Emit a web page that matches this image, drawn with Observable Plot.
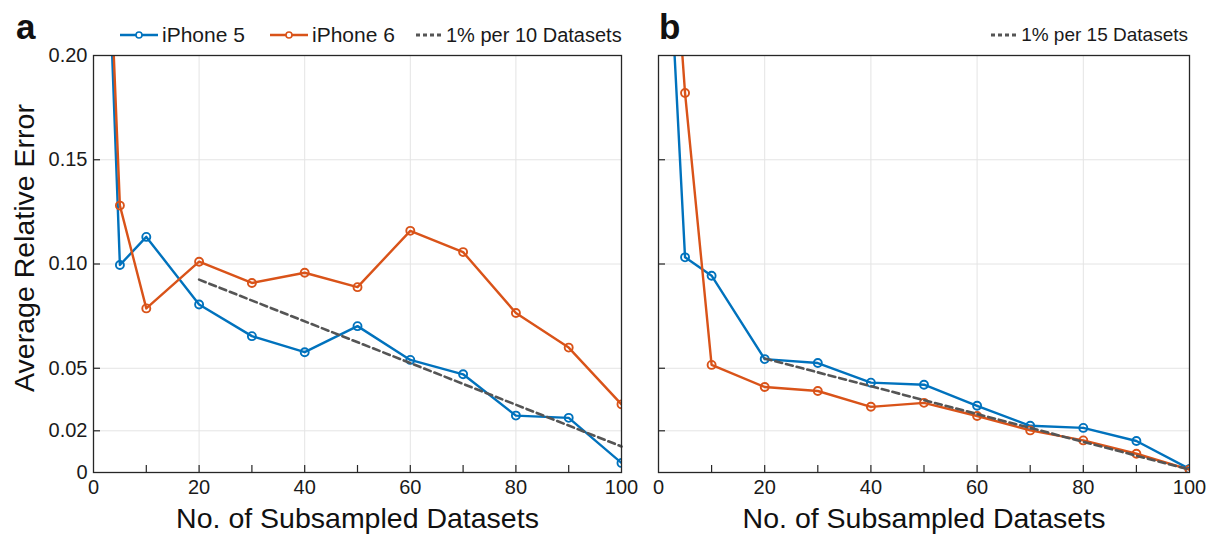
<!DOCTYPE html>
<html><head><meta charset="utf-8">
<script src="https://cdn.jsdelivr.net/npm/d3@7"></script>
<script src="https://cdn.jsdelivr.net/npm/@observablehq/plot@0.6"></script>
<style>
body{margin:0;background:#fff;font-family:"Liberation Sans",Arial,sans-serif;}
#wrap{position:relative;width:1210px;height:534px;overflow:hidden;background:#fff;}
.panel{position:absolute;top:0;}
.tag{position:absolute;font-weight:bold;font-size:35px;color:#111;line-height:1;}
.leg{position:absolute;display:flex;align-items:center;height:24px;color:#1a1a1a;white-space:nowrap;line-height:24px;}
.leg svg{margin-right:4px;}
</style></head><body><div id="wrap"></div>
<script>
// ---- data ----
const datasets = [1, 5, 10, 20, 30, 40, 50, 60, 70, 80, 90, 100];
const aIphone5 = [0.375, 0.0995, 0.113, 0.0806, 0.0654, 0.0577, 0.0702, 0.0540, 0.0471, 0.0273, 0.0262, 0.0046];
const aIphone6 = [0.377, 0.128, 0.0787, 0.1011, 0.0909, 0.0958, 0.0889, 0.1159, 0.1057, 0.0765, 0.0599, 0.0327];
const bIphone5 = [0.300, 0.1032, 0.0944, 0.0544, 0.0525, 0.0431, 0.0421, 0.0320, 0.0224, 0.0214, 0.0151, 0.0017];
const bIphone6 = [0.325, 0.182, 0.0516, 0.0410, 0.0391, 0.0315, 0.0334, 0.0271, 0.0202, 0.0154, 0.0090, 0.0014];
const trendX = [20, 100];
const aTrend = [0.0925, 0.0125];
const bTrend = [0.0547, 0.0014];
const xTickLabels = [0, 20, 40, 60, 80, 100];
const xMinorTicks = [10, 20, 30, 40, 50, 60, 70, 80, 90];
const xGridLines = [20, 40, 60, 80];
const yTickLabels = [0, 0.02, 0.05, 0.10, 0.15, 0.20];
const yTicks = [0.02, 0.05, 0.10, 0.15];
const yGridLines = [0.02, 0.05, 0.10, 0.15];
const seriesNames = ["iPhone 5", "iPhone 6"];
const trendNames = ["1% per 10 Datasets", "1% per 15 Datasets"];
const xLabel = "No. of Subsampled Datasets";
const yLabel = "Average Relative Error";

const BLUE = "#0072BD", ORANGE = "#D95319", DASH = "#555555";
const H = 534, MT = 55, MB = 62;

function rows(vals) { return datasets.map((x, i) => ({x, y: vals[i]})); }
function trendRows(vals) { return trendX.map((x, i) => ({x, y: vals[i]})); }

function panel({width, ml, mr, s5, s6, trend, showY}) {
  const innerW = width - ml - mr, innerH = H - MT - MB;
  const marks = [
    Plot.gridX(xGridLines, {stroke: "#e4e4e4", strokeOpacity: 1, strokeWidth: 1}),
    Plot.gridY(yGridLines, {stroke: "#e4e4e4", strokeOpacity: 1, strokeWidth: 1}),
    Plot.ruleX(xMinorTicks, {x: d => d, insetTop: innerH - 7, stroke: "#262626", strokeWidth: 1.2}),
    Plot.ruleY(yTicks, {y: d => d, insetRight: innerW - 7, stroke: "#262626", strokeWidth: 1.2}),
    Plot.line(rows(s5), {x: "x", y: "y", stroke: BLUE, strokeWidth: 2.4, clip: true}),
    Plot.dot(rows(s5), {x: "x", y: "y", stroke: BLUE, r: 4, strokeWidth: 1.9, fill: "none", clip: true}),
    Plot.line(rows(s6), {x: "x", y: "y", stroke: ORANGE, strokeWidth: 2.4, clip: true}),
    Plot.dot(rows(s6), {x: "x", y: "y", stroke: ORANGE, r: 4, strokeWidth: 1.9, fill: "none", clip: true}),
    Plot.line(trendRows(trend), {x: "x", y: "y", stroke: DASH, strokeWidth: 2.6, strokeDasharray: "7,4"}),
    Plot.frame({stroke: "#262626", strokeWidth: 1.3}),
    Plot.axisX(xTickLabels, {tickSize: 0, tickPadding: 7, fontSize: 20, color: "#1a1a1a", label: null, tickFormat: d => String(d)}),
    Plot.text([xLabel], {frameAnchor: "bottom", lineAnchor: "middle", textAnchor: "middle", dy: 46, text: d => d, fontSize: 28.5, fill: "#111"})
  ];
  if (showY) {
    marks.push(Plot.axisY(yTickLabels, {tickSize: 0, tickPadding: 6, fontSize: 20, color: "#1a1a1a", label: null,
      tickFormat: d => d === 0 ? "0" : d.toFixed(2)}));
    marks.push(Plot.text([yLabel], {frameAnchor: "left", textAnchor: "middle", lineAnchor: "middle", dx: -69, dy: -16, rotate: -90, text: d => d, fontSize: 28.5, fill: "#111"}));
  }
  return Plot.plot({
    width, height: H,
    marginLeft: ml, marginRight: mr, marginTop: MT, marginBottom: MB,
    style: {fontFamily: "Liberation Sans, Arial, sans-serif", background: "transparent", overflow: "visible"},
    x: {domain: [0, 100]},
    y: {domain: [0, 0.2], axis: showY ? undefined : null},
    marks
  });
}

const wrap = document.getElementById("wrap");
function place(node, left) {
  node.classList.add("panel");
  node.style.left = left + "px";
  wrap.appendChild(node);
}
place(panel({width: 640, ml: 93, mr: 19, s5: aIphone5, s6: aIphone6, trend: aTrend, showY: true}), 0);
place(panel({width: 570, ml: 18, mr: 21, s5: bIphone5, s6: bIphone6, trend: bTrend, showY: false}), 640);

function tag(t, left) {
  const d = document.createElement("div");
  d.className = "tag"; d.textContent = t;
  d.style.left = left + "px"; d.style.top = "9px";
  wrap.appendChild(d);
}
tag("a", 16); tag("b", 659);

function swatchLine(color) {
  return `<svg width="38" height="12"><line x1="0" y1="6" x2="38" y2="6" stroke="${color}" stroke-width="2.3"/><circle cx="19" cy="6" r="3" fill="#fff" stroke="${color}" stroke-width="1.6"/></svg>`;
}
function swatchDash() {
  return `<svg width="26" height="12"><line x1="0" y1="6" x2="26" y2="6" stroke="${DASH}" stroke-width="3" stroke-dasharray="4,3"/></svg>`;
}
function legend(html, text, left, size, right) {
  const d = document.createElement("div");
  d.className = "leg";
  d.innerHTML = html + `<span style="font-size:${size}px">${text}</span>`;
  d.style.top = "23px";
  if (right !== undefined) d.style.right = right + "px"; else d.style.left = left + "px";
  wrap.appendChild(d);
}
legend(swatchLine(BLUE), seriesNames[0], 120, 21);
legend(swatchLine(ORANGE), seriesNames[1], 270, 21);
legend(swatchDash(), trendNames[0], 416, 20);
legend(swatchDash(), trendNames[1], null, 19, 22);
</script></body></html>
